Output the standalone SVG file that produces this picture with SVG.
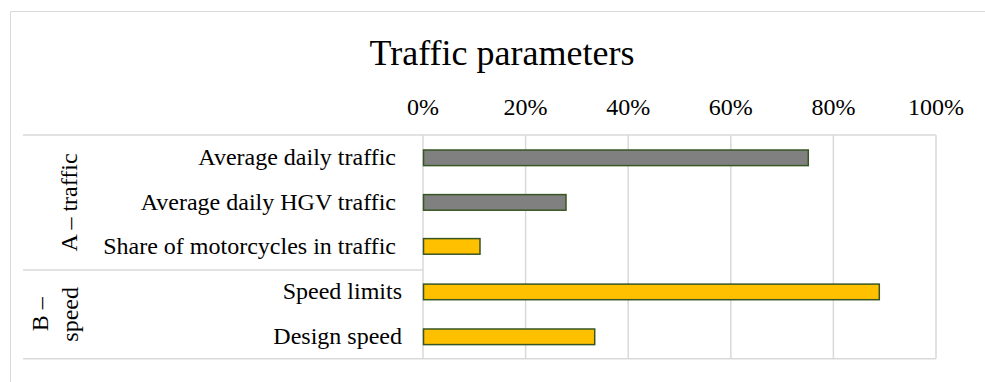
<svg xmlns="http://www.w3.org/2000/svg" width="985" height="382" viewBox="0 0 985 382">
  <style>
    .t { font-family: "Liberation Serif", "Times New Roman", serif; fill: #000; }
    .title { font-size: 36px; text-anchor: middle; }
    .ax { font-size: 24px; text-anchor: middle; }
    .cat { font-size: 24px; text-anchor: end; }
    .grp { font-size: 24px; text-anchor: middle; }
    .grid { stroke: #D9D9D9; stroke-width: 1.5; fill: none; }
    .bar-g { fill: #808080; stroke: #375623; stroke-width: 1.5; }
    .bar-y { fill: #FFC000; stroke: #375623; stroke-width: 1.5; }
  </style>
  <rect x="0" y="0" width="985" height="382" fill="#FFFFFF"/>
  <!-- outer chart frame (cropped at right and bottom) -->
  <path d="M10.5 390 L10.5 11.5 L990 11.5" fill="none" stroke="#D9D9D9" stroke-width="1"/>

  <g id="title">
    <text class="t title" x="502" y="65">Traffic parameters</text>
  </g>

  <g id="value-axis">
    <text class="t ax" x="423" y="115">0%</text>
    <text class="t ax" x="525.6" y="115">20%</text>
    <text class="t ax" x="628.2" y="115">40%</text>
    <text class="t ax" x="730.8" y="115">60%</text>
    <text class="t ax" x="833.4" y="115">80%</text>
    <text class="t ax" x="936" y="115">100%</text>
  </g>

  <g id="gridlines">
    <line class="grid" x1="23" y1="135" x2="936" y2="135"/>
    <line class="grid" x1="23" y1="358.7" x2="936" y2="358.7"/>
    <line class="grid" x1="23" y1="270" x2="423" y2="270"/>
    <line class="grid" x1="423" y1="135" x2="423" y2="358.7"/>
    <line class="grid" x1="525.6" y1="135" x2="525.6" y2="358.7"/>
    <line class="grid" x1="628.2" y1="135" x2="628.2" y2="358.7"/>
    <line class="grid" x1="730.8" y1="135" x2="730.8" y2="358.7"/>
    <line class="grid" x1="833.4" y1="135" x2="833.4" y2="358.7"/>
    <line class="grid" x1="936" y1="135" x2="936" y2="358.7"/>
  </g>

  <g id="bars">
    <rect id="bar-adt" class="bar-g" x="423.5" y="150" width="384.8" height="15.6"/>
    <rect id="bar-hgv" class="bar-g" x="423.5" y="194.6" width="142.5" height="15.6"/>
    <rect id="bar-moto" class="bar-y" x="423.5" y="238.6" width="56.5" height="15.6"/>
    <rect id="bar-speedlim" class="bar-y" x="423.5" y="284.1" width="455.8" height="15.6"/>
    <rect id="bar-design" class="bar-y" x="423.5" y="329" width="171.2" height="15.6"/>
  </g>

  <g id="category-labels">
    <text class="t cat" x="396" y="164.9">Average daily traffic</text>
    <text class="t cat" x="396" y="209.6">Average daily HGV traffic</text>
    <text class="t cat" x="396" y="254.3">Share of motorcycles in traffic</text>
    <text class="t cat" x="402" y="299.1">Speed limits</text>
    <text class="t cat" x="402" y="343.8">Design speed</text>
  </g>

  <g id="group-A">
    <text class="t grp" transform="translate(77 202.5) rotate(-90)">A – traffic</text>
  </g>
  <g id="group-B">
    <text class="t grp" transform="translate(48 314.3) rotate(-90)">B –</text>
    <text class="t grp" transform="translate(78 314.3) rotate(-90)">speed</text>
  </g>
</svg>
